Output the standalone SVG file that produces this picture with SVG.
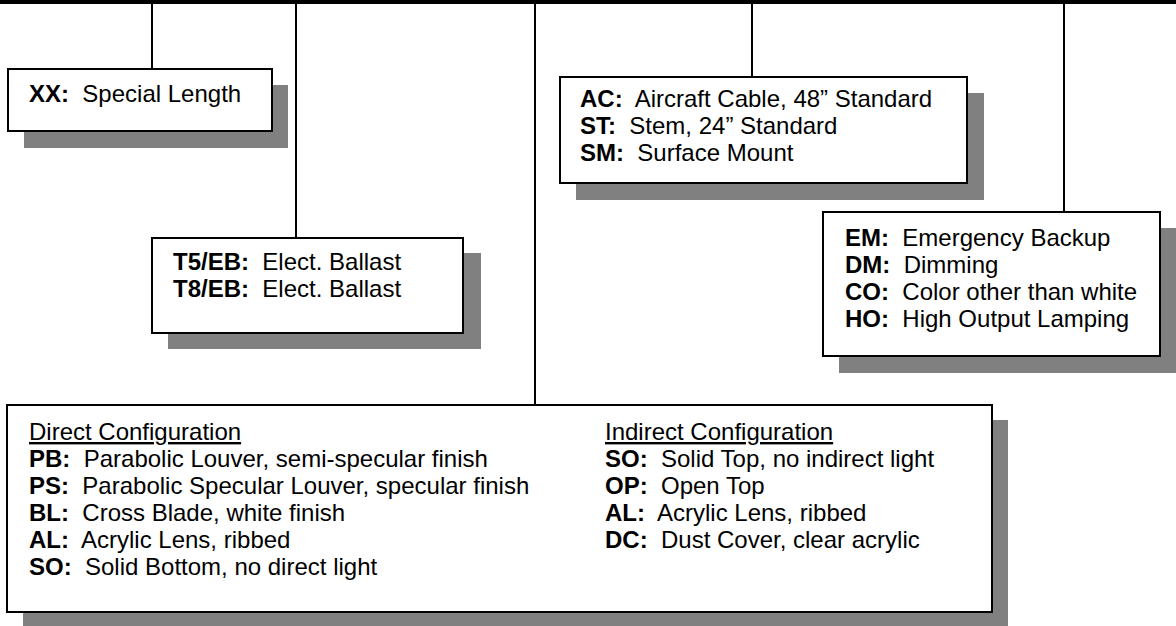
<svg xmlns="http://www.w3.org/2000/svg" width="1176" height="626" viewBox="0 0 1176 626">
<style>
.box{fill:#fff;stroke:#000;stroke-width:2}
.sh{fill:#808080}
.ln{stroke:#000;stroke-width:2;fill:none}
text{font-family:"Liberation Sans",Arial,sans-serif;font-size:24px;fill:#000}
.b{font-weight:bold}
.u{text-decoration:underline}
</style>
<rect x="0" y="0" width="1176" height="4" fill="#000"/>
<g id="connectors">
<line class="ln" x1="152" y1="4" x2="152" y2="69"/>
<line class="ln" x1="296" y1="4" x2="296" y2="238"/>
<line class="ln" x1="535" y1="4" x2="535" y2="405"/>
<line class="ln" x1="752" y1="4" x2="752" y2="77"/>
<line class="ln" x1="1064" y1="4" x2="1064" y2="212"/>
</g>
<g id="length">
<rect class="sh" x="24" y="85" width="264" height="63"/>
<rect class="box" x="8" y="69" width="264" height="62"/>
<text x="29" y="102" xml:space="preserve"><tspan class="b">XX:</tspan>  Special Length</text>
</g>
<g id="ballast">
<rect class="sh" x="168" y="253" width="313" height="96"/>
<rect class="box" x="152" y="238" width="311" height="95"/>
<text x="173" y="270" xml:space="preserve"><tspan class="b">T5/EB:</tspan>  Elect. Ballast</text>
<text x="173" y="297" xml:space="preserve"><tspan class="b">T8/EB:</tspan>  Elect. Ballast</text>
</g>
<g id="mounting">
<rect class="sh" x="576" y="93" width="408" height="107"/>
<rect class="box" x="560" y="77" width="407" height="106"/>
<text x="580" y="107" xml:space="preserve"><tspan class="b">AC:</tspan>  Aircraft Cable, 48” Standard</text>
<text x="580" y="134" xml:space="preserve"><tspan class="b">ST:</tspan>  Stem, 24” Standard</text>
<text x="580" y="161" xml:space="preserve"><tspan class="b">SM:</tspan>  Surface Mount</text>
</g>
<g id="options">
<rect class="sh" x="839" y="228" width="337" height="145"/>
<rect class="box" x="823" y="212" width="337" height="144"/>
<text x="845" y="246" xml:space="preserve"><tspan class="b">EM:</tspan>  Emergency Backup</text>
<text x="845" y="273" xml:space="preserve"><tspan class="b">DM:</tspan>  Dimming</text>
<text x="845" y="300" xml:space="preserve"><tspan class="b">CO:</tspan>  Color other than white</text>
<text x="845" y="327" xml:space="preserve"><tspan class="b">HO:</tspan>  High Output Lamping</text>
</g>
<g id="configuration">
<rect class="sh" x="23" y="420" width="985" height="208"/>
<rect class="box" x="7" y="405" width="985" height="207"/>
<text x="29" y="440" class="u">Direct Configuration</text>
<text x="29" y="467" xml:space="preserve"><tspan class="b">PB:</tspan>  Parabolic Louver, semi-specular finish</text>
<text x="29" y="494" xml:space="preserve"><tspan class="b">PS:</tspan>  Parabolic Specular Louver, specular finish</text>
<text x="29" y="521" xml:space="preserve"><tspan class="b">BL:</tspan>  Cross Blade, white finish</text>
<text x="29" y="548" xml:space="preserve"><tspan class="b">AL:</tspan>  Acrylic Lens, ribbed</text>
<text x="29" y="575" xml:space="preserve"><tspan class="b">SO:</tspan>  Solid Bottom, no direct light</text>
<text x="605" y="440" class="u">Indirect Configuration</text>
<text x="605" y="467" xml:space="preserve"><tspan class="b">SO:</tspan>  Solid Top, no indirect light</text>
<text x="605" y="494" xml:space="preserve"><tspan class="b">OP:</tspan>  Open Top</text>
<text x="605" y="521" xml:space="preserve"><tspan class="b">AL:</tspan>  Acrylic Lens, ribbed</text>
<text x="605" y="548" xml:space="preserve"><tspan class="b">DC:</tspan>  Dust Cover, clear acrylic</text>
</g>
</svg>
